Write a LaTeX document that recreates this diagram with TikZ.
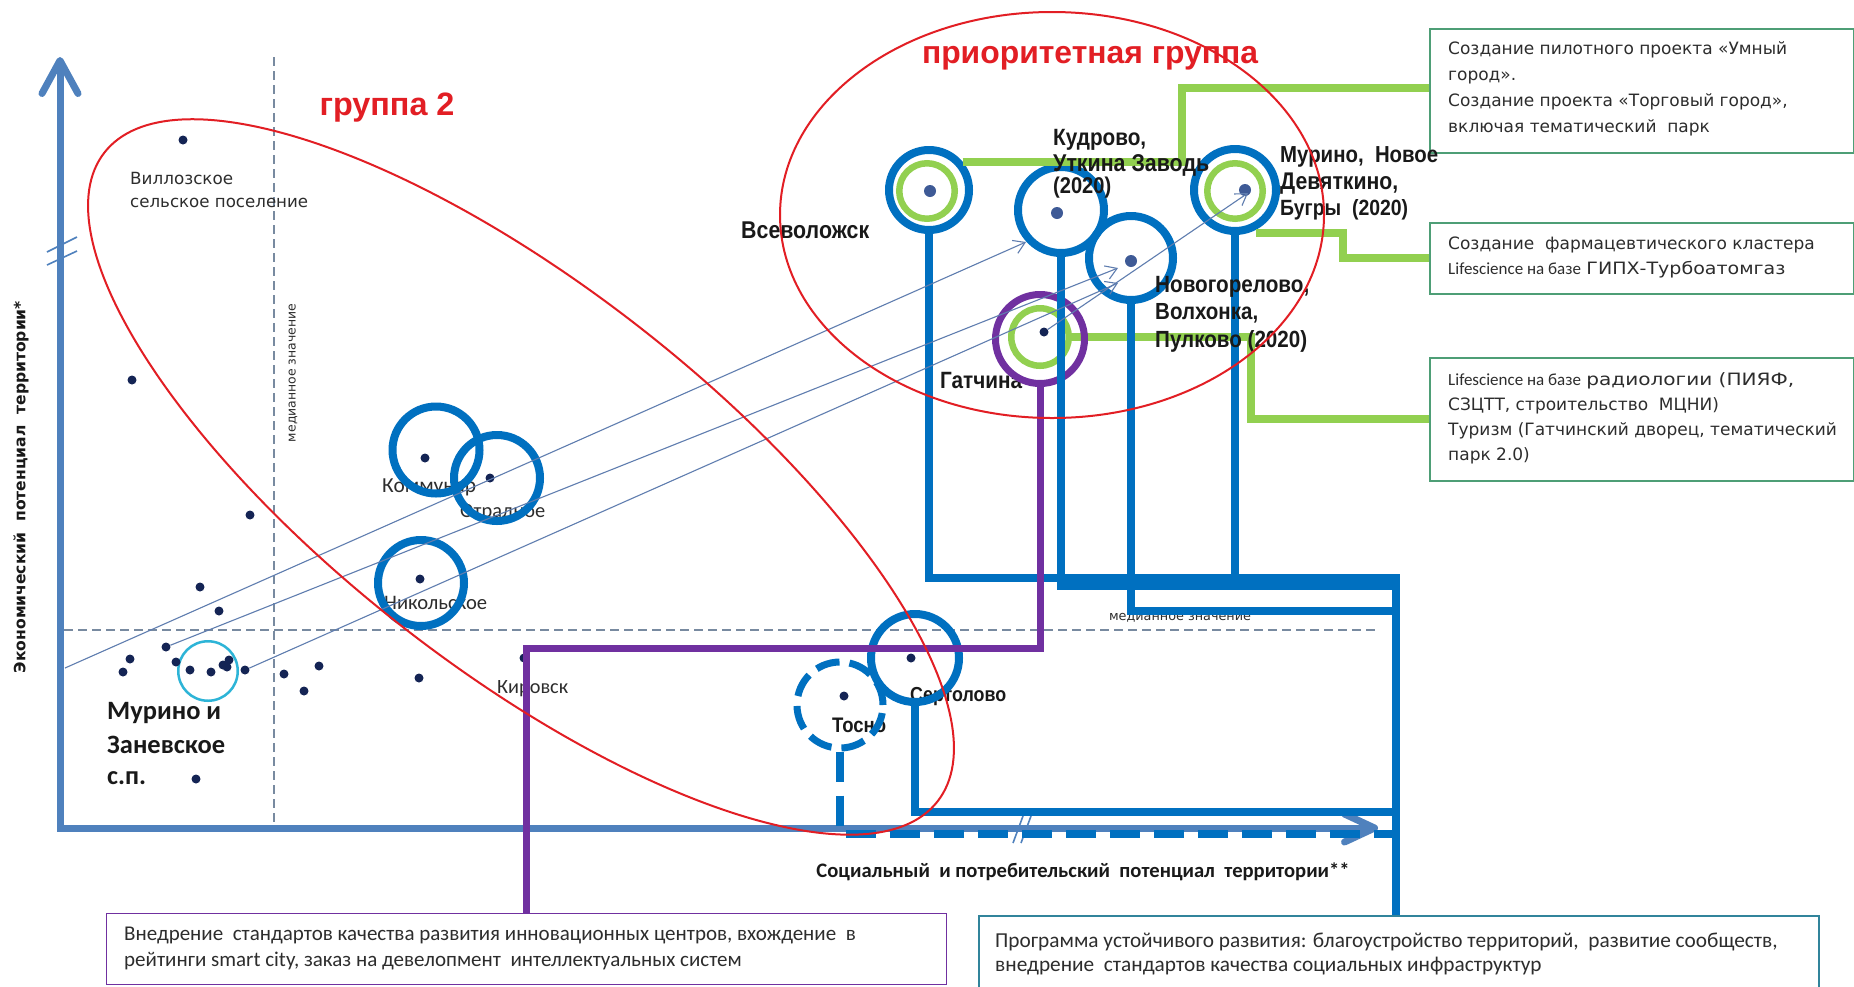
\documentclass[tikz,border=0pt]{standalone}
\usepackage{fontspec}
\usepackage{graphicx}
\setmainfont{DejaVu Sans}
\newfontfamily\dvf{DejaVu Sans}
\newfontfamily\cbf{Carlito}
\newfontfamily\lsf{Liberation Sans}
\usetikzlibrary{arrows.meta}
\definecolor{axisblue}{RGB}{79,129,189}
\definecolor{cblue}{RGB}{0,112,192}
\definecolor{lgreen}{RGB}{146,208,80}
\definecolor{purp}{RGB}{112,48,160}
\definecolor{redc}{RGB}{226,30,36}
\definecolor{cyanc}{RGB}{45,180,215}
\definecolor{navy}{RGB}{20,36,84}
\definecolor{slate}{RGB}{62,90,150}
\definecolor{traj}{RGB}{95,125,175}
\definecolor{medc}{RGB}{120,138,160}
\definecolor{boxgreen}{RGB}{78,158,118}
\definecolor{boxteal}{RGB}{49,132,155}
\definecolor{txtgray}{RGB}{45,45,45}
\definecolor{txtdark}{RGB}{25,25,25}
\newcommand\fsz[2]{\fontsize{#1pt}{#2pt}\selectfont}
\newcommand\fitw[2]{\resizebox{#1pt}{!}{#2}}
\newcommand\nfit[2]{\resizebox{#1pt}{!}{\scalebox{0.88}[1]{#2}}}
\newcommand\wide[2]{\scalebox{#1}[1]{#2}}
\newcommand\cityf{\lsf\bfseries\fsz{22}{24}}
\newcommand\calf{\cbf\fsz{21}{24}}
\begin{document}
\begin{tikzpicture}[x=1pt,y=-1pt,line join=miter,
  axisl/.style={draw=axisblue, line width=7pt},
  medl/.style={draw=medc, line width=1.3pt, dash pattern=on 9pt off 5pt},
  brk/.style={draw=axisblue, line width=1.6pt},
  bring/.style={circle, draw=cblue, line width=8pt, inner sep=0pt, minimum size=#1},
  gring/.style={circle, draw=lgreen, line width=6.5pt, inner sep=0pt, minimum size=#1},
  pring/.style={circle, draw=purp, line width=7pt, inner sep=0pt, minimum size=#1},
  cring/.style={circle, draw=cyanc, line width=2.5pt, inner sep=0pt, minimum size=#1},
  dotn/.style={circle, fill=navy, inner sep=0pt, minimum size=9pt},
  sdot/.style={circle, fill=slate, inner sep=0pt, minimum size=12pt},
  bline/.style={draw=cblue, line width=8pt},
  gline/.style={draw=lgreen, line width=8pt},
  pline/.style={draw=purp, line width=7pt},
  redl/.style={draw=redc, line width=2pt},
  trajl/.style={draw=traj, line width=1.1pt, -{Straight Barb[length=11pt,width=14pt]}},
  lbl/.style={inner sep=0pt, anchor=west, text=txtdark},
  glbl/.style={inner sep=0pt, anchor=west, text=txtgray},
  infobox/.style={draw=boxgreen, line width=1.6pt, fill=white, inner sep=0pt, anchor=north west},
  boxtxt/.style={inner sep=0pt, anchor=west, align=left, text=txtgray},
  title/.style={inner sep=0pt, text=redc}
]
\useasboundingbox (0,0) rectangle (1854,986);
\fill[white] (0,0) rectangle (1854,986);
\clip (0,0) rectangle (1854,986);

% axes
\coordinate (ytip) at (60,57);
\coordinate (orig) at (60,828);
\coordinate (xtip) at (1378,828);
\draw[axisl, {Straight Barb[length=33pt,width=36pt,round]}-{Straight Barb[length=30pt,width=28pt,round]}] (ytip) -- (orig) -- (xtip);
\draw[brk] (47,252) -- (77,237);
\draw[brk] (47,265) -- (77,251);
\draw[brk] (1013,843) -- (1023,816);
\draw[brk] (1021,843) -- (1031,816);

% median lines
\draw[medl] (274,57) -- (274,826);
\draw[medl] (64,630) -- (1378,630);
\node[inner sep=0pt, rotate=90, text=txtgray] (medv) at (293,373) {\fitw{138}{\dvf\fsz{13}{15}медианное значение}};
\node[inner sep=0pt, text=txtgray] (medh) at (1180,618) {\fitw{142}{\dvf\fsz{13}{15}медианное значение}};

% axis labels
\node[inner sep=0pt, rotate=90, text=txtdark] (ylab) at (21,487) {\fitw{372}{\dvf\bfseries\fsz{15.5}{18}Экономический\ \ потенциал\ \ территории*}};
\node[inner sep=0pt, text=txtdark] (xlab) at (1083,872) {\fitw{533}{\cbf\bfseries\fsz{20}{24}Социальный\ \ и потребительский\ \ потенциал\ \ территории**}};

% titles
\node[title] (tprio) at (1090,58) {\fitw{336}{\lsf\bfseries\fsz{32}{36}приоритетная группа}};
\node[title] (tg2) at (387,108) {\fitw{135}{\lsf\bfseries\fsz{32}{36}группа 2}};

% labels (under the rings)
\node[glbl] (vil1) at (130,178) {\fitw{103}{\dvf\fsz{16.5}{20}Виллозское}};
\node[glbl] (vil2) at (130,203) {\fitw{178}{\dvf\fsz{16.5}{20}сельское поселение}};
\node[glbl] (koml) at (382,487) {\fitw{94}{\calf Коммунар}};
\node[glbl] (otrl) at (460,513) {\fitw{85}{\calf Отрадное}};
\node[glbl] (nikl) at (384,603) {\fitw{103}{\calf Никольское}};
\node[glbl] (kirl) at (497,689) {\fitw{71}{\calf Кировск}};
\node[lbl] (mz1) at (107,713) {\fitw{114}{\cbf\bfseries\fsz{27}{30}Мурино и}};
\node[lbl] (mz2) at (107,745) {\fitw{118}{\cbf\bfseries\fsz{27}{30}Заневское}};
\node[lbl] (mz3) at (107,778) {\fitw{39}{\cbf\bfseries\fsz{27}{30}с.п.}};
\node[lbl] (vsl) at (741,230) {\nfit{128}{\cityf Всеволожск}};
\node[lbl] (gtl) at (940,381) {\nfit{82}{\cityf Гатчина}};
\node[lbl] (srl) at (910,697) {\nfit{96}{\cityf Сертолово}};
\node[lbl] (tsl) at (832,725) {\nfit{54}{\cityf Тосно}};

% boxes
\node[infobox, minimum width=424pt, minimum height=124pt] (b1) at (1429,28) {};
\node[infobox, minimum width=424pt, minimum height=71pt] (b2) at (1429,222) {};
\node[infobox, minimum width=424pt, minimum height=123pt] (b3) at (1429,357) {};
\node[infobox, draw=purp, line width=1.3pt, minimum width=840pt, minimum height=71pt] (blb) at (106,913) {};
\node[infobox, draw=boxteal, minimum width=840pt, minimum height=85pt] (brb) at (978,915) {};
\node[boxtxt, font=\dvf\fsz{17}{26}] (b1t) at (1448,89) {Создание пилотного проекта «Умный\\город».\\Создание проекта «Торговый город»,\\включая тематический\ \ парк};
\node[boxtxt, font=\dvf\fsz{17}{25}] (b2t) at (1448,257.5) {Создание\ \ фармацевтического кластера\\{\cbf Lifescience на базе} \wide{1.12}{ГИПХ-Турбоатомгаз}};
\node[boxtxt, font=\dvf\fsz{17}{25}] (b3t) at (1448,418) {{\cbf Lifescience на базе} \wide{1.18}{радиологии (ПИЯФ,}\\СЗЦТТ, строительство\ \ МЦНИ)\\Туризм (Гатчинский дворец, тематический\\парк 2.0)};
\node[boxtxt, font=\cbf\fsz{21}{26}] (blt) at (124,948) {Внедрение\ \ стандартов качества развития инновационных центров, вхождение\ \ в\\рейтинги smart city, заказ на девелопмент\ \ интеллектуальных систем};
\node[boxtxt, font=\cbf\fsz{21.3}{24}] (brt) at (995,954) {Программа устойчивого развития: благоустройство территорий,\ \ развитие сообществ,\\внедрение\ \ стандартов качества социальных инфраструктур};

% rings
\node[bring=87pt] (kom) at (436,450) {};
\node[bring=86pt] (otr) at (497,478) {};
\node[bring=86pt] (nik) at (421,583) {};
\node[bring=86pt, line width=7pt, dash pattern=on 24pt off 10pt] (tos) at (840,705) {};
\node[bring=88pt] (ser) at (915,658) {};
\node[cring=59.5pt] (murz) at (208,671) {};
\node[bring=80pt] (vsev) at (929,190) {};
\node[gring=55.5pt] (vsevg) at (927,191) {};
\node[bring=86pt] (kud) at (1061,210) {};
\node[bring=84pt] (nov) at (1131,258) {};
\node[bring=82pt] (mur) at (1235,190) {};
\node[gring=55.5pt] (murg) at (1235,191) {};
\node[gring=57.5pt] (gatg) at (1040,337) {};

% dots
\node[dotn] (d1) at (183,140) {};
\node[dotn] (d2) at (132,380) {};
\node[dotn] (d3) at (250,515) {};
\node[dotn] (d4) at (200,587) {};
\node[dotn] (d5) at (219,611) {};
\node[dotn] (d6) at (166,647) {};
\node[dotn] (d7) at (130,659) {};
\node[dotn] (d8) at (123,672) {};
\node[dotn] (d9) at (176,662) {};
\node[dotn] (d10) at (190,670) {};
\node[dotn] (d11) at (211,672) {};
\node[dotn] (d12) at (223,665) {};
\node[dotn] (d13) at (229,660) {};
\node[dotn] (d14) at (227,667) {};
\node[dotn] (d15) at (245,670) {};
\node[dotn] (d16) at (284,674) {};
\node[dotn] (d17) at (319,666) {};
\node[dotn] (d18) at (304,691) {};
\node[dotn] (d19) at (419,678) {};
\node[dotn] (d20) at (425,458) {};
\node[dotn] (d21) at (490,478) {};
\node[dotn] (d22) at (420,579) {};
\node[dotn] (d23) at (524,658) {};
\node[dotn] (d24) at (196,779) {};
\node[dotn] (d25) at (911,658) {};
\node[dotn] (d26) at (844,696) {};
\node[sdot] (dvs) at (930,191) {};
\node[sdot] (dkd) at (1057,213) {};
\node[sdot] (dnv) at (1131,261) {};
\node[sdot] (dmr) at (1245,190) {};
\node[dotn] (dgt) at (1044,332) {};

% green connectors
\coordinate (gk1) at (1182,88);
\coordinate (gk2) at (1343,233);
\coordinate (gk3) at (1251,337);
\draw[gline] (vsev.40) -| (gk1) -- (gk1 -| b1.west);
\draw[gline] (mur.298 |- gk2) -- (gk2) |- (b2.west);
\draw[gline] (gatg.east) -- (gatg.east -| gk3) |- (b3.west);
\node[pring=89pt] (gat) at (1040,339) {};

% blue connectors
\coordinate (busA) at (1396,578);
\coordinate (busK) at (1396,586);
\coordinate (busN) at (1396,611);
\coordinate (busS) at (1396,812);
\coordinate (busT) at (1396,834);
\draw[bline] (vsev.south) |- (busA) -- (busA |- brb.north);
\draw[bline] (kud.south) |- (busK);
\draw[bline] (nov.south) |- (busN);
\draw[bline] (mur.south) -- (mur.south |- busA);
\draw[bline] (ser.south) |- (busS);
\draw[bline, dash pattern=on 30pt off 14pt] (tos.south) |- (busT);
\coordinate (pk) at (526,648);
\draw[pline] (gat.south) |- (pk) -- (pk |- blb.north);

% trajectories
\coordinate (t1s) at (65,668);
\coordinate (a1) at (1026,242);
\coordinate (a2) at (1118,268);
\coordinate (a3) at (1118,283);
\coordinate (a4) at (1248,193);
\draw[trajl] (t1s) -- (a1);
\draw[trajl] (d6) -- (a2);
\draw[trajl] (d15) -- (a3);
\draw[trajl] (dgt) -- (a4);

% labels over the rings
\node[lbl] (kd1) at (1053,140) {\nfit{93}{\cityf Кудрово,}};
\node[lbl] (kd2) at (1053,165) {\nfit{156}{\cityf Уткина Заводь}};
\node[lbl] (kd3) at (1053,188) {\nfit{58}{\cityf (2020)}};
\node[lbl] (mr1) at (1280,157) {\nfit{158}{\cityf Мурино,\ \ Новое}};
\node[lbl] (mr2) at (1280,184) {\nfit{118}{\cityf Девяткино,}};
\node[lbl] (mr3) at (1280,210) {\nfit{128}{\cityf Бугры\ \ (2020)}};
\node[lbl] (nv1) at (1155,287) {\nfit{154}{\cityf Новогорелово,}};
\node[lbl] (nv2) at (1155,313) {\nfit{103}{\cityf Волхонка,}};
\node[lbl] (nv3) at (1155,341) {\nfit{152}{\cityf Пулково (2020)}};

% red groups
\coordinate (g2c) at (521,477);
\coordinate (prc) at (1052,215);
\draw[redl, rotate around={-37.9:(g2c)}] (g2c) ellipse [x radius=528pt, y radius=191pt];
\draw[redl] (prc) ellipse [x radius=272pt, y radius=203pt];
\end{tikzpicture}
\end{document}
